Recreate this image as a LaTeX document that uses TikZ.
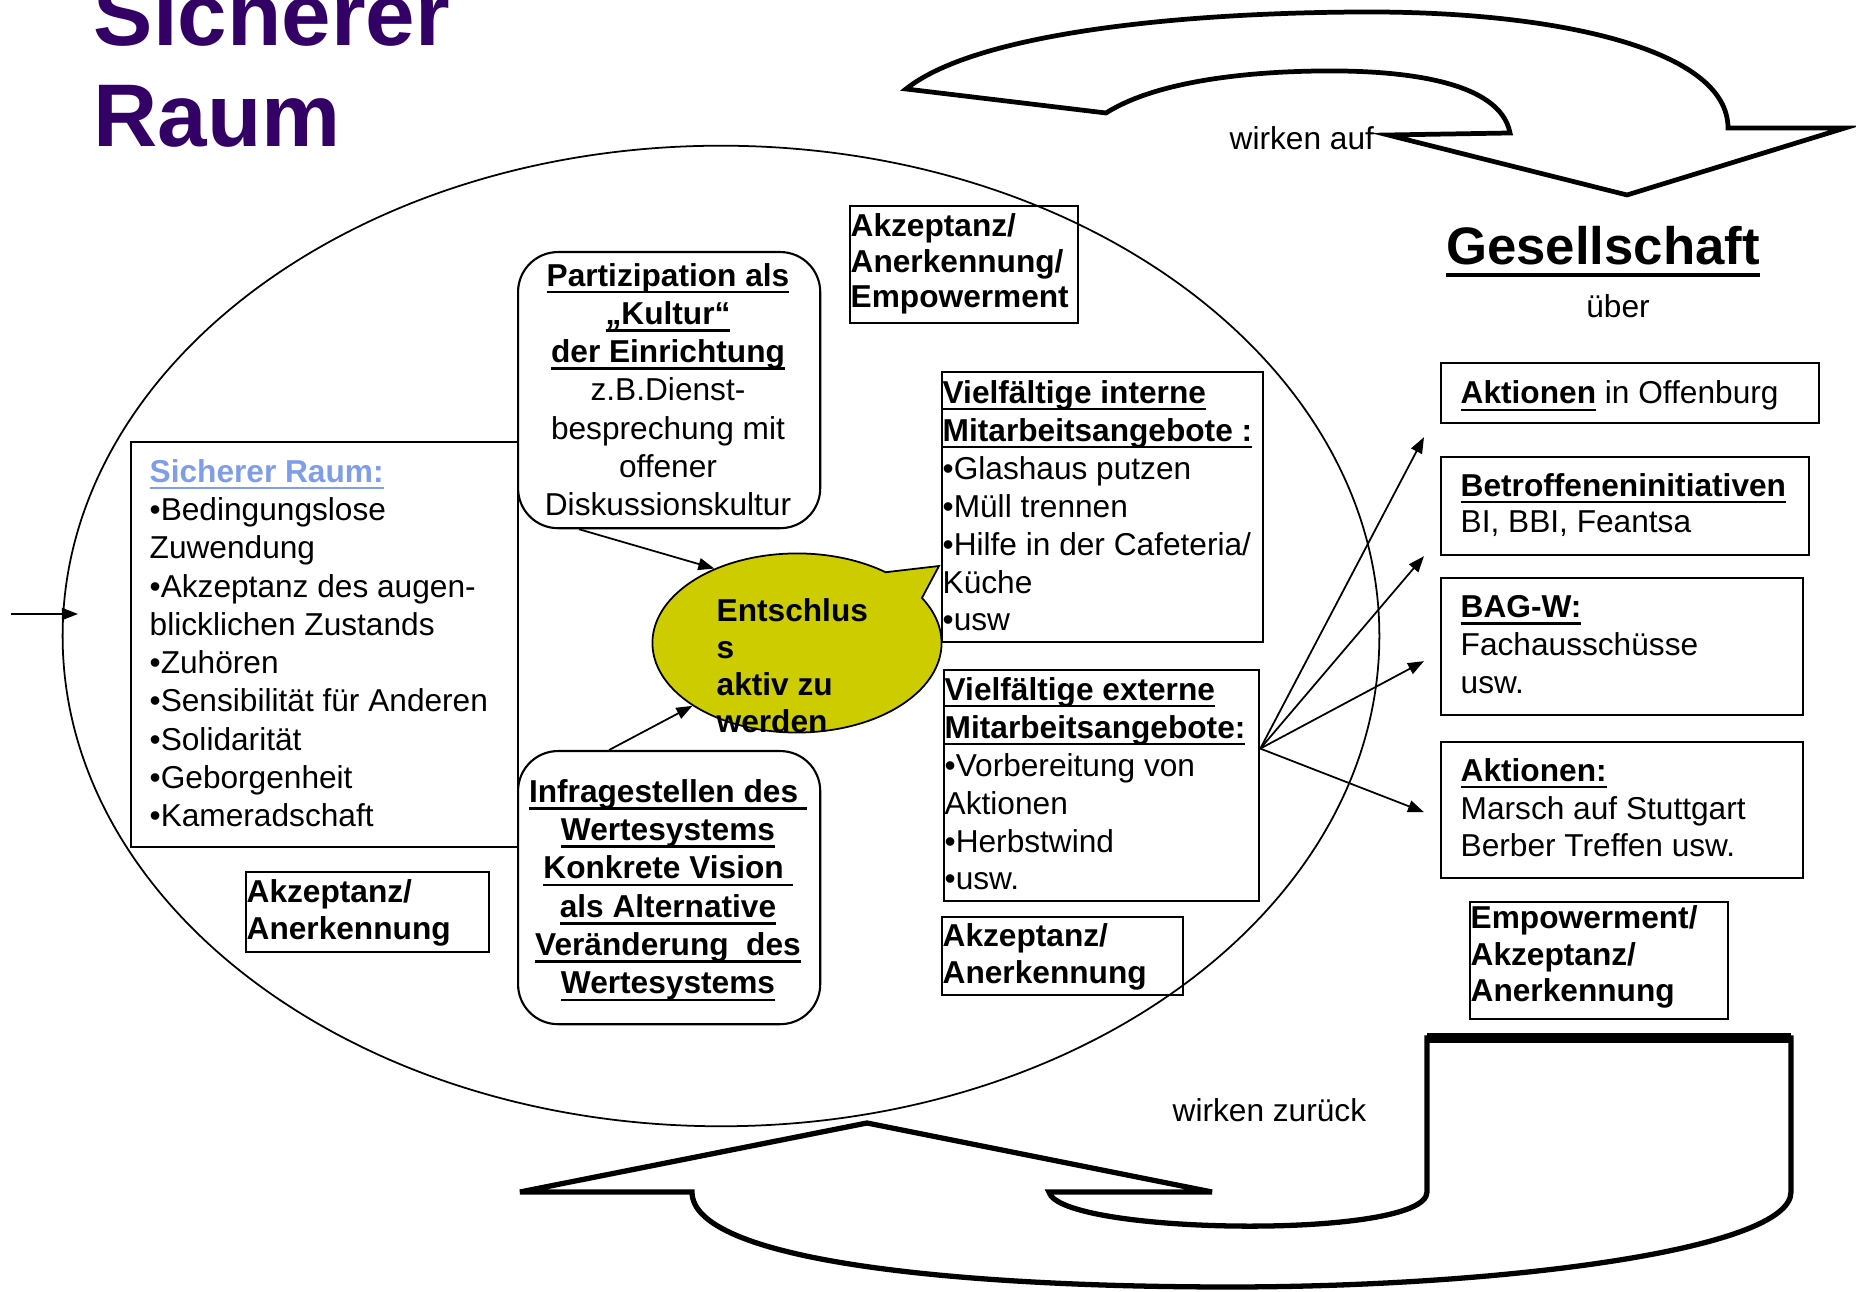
\documentclass[tikz,border=0pt]{standalone}
\usepackage{fontspec}
\setmainfont{Liberation Sans}
\usetikzlibrary{arrows.meta,shapes.geometric,shapes.callouts}
\definecolor{titlepurple}{RGB}{51,0,102}
\definecolor{raumblue}{RGB}{128,158,232}
\definecolor{bubbleyellow}{RGB}{204,204,0}
\newcommand\ulin[1]{\setbox0\hbox{#1}\rlap{\vrule width\wd0 height -0.15em depth 0.23em}\box0}
\tikzset{
  frame/.style={draw, line width=0.6pt, inner sep=0pt, anchor=north west},
  rbox/.style={frame, rounded corners=0.4cm},
  txt/.style={anchor=base west, align=left, inner sep=0pt, font=\fontsize{9}{10.9}\selectfont},
  ctxt/.style={txt, anchor=base, align=center},
  conn/.style={line width=0.5pt, -{Triangle[length=1.6mm,width=1.2mm]}},
  fatarrow/.style={fill=white, line join=miter}
}
\begin{document}
\begin{tikzpicture}[x=0.01cm, y=-0.01cm]
  \clip (0,0) rectangle (1856,1292);

  \draw[fatarrow, line width=1.35pt] (906,89) .. controls (980,30) and (1200,12) .. (1370,12)
    .. controls (1560,12) and (1728,50) .. (1728,128) -- (1845,128) -- (1627,195) -- (1388,135)
    -- (1510,133) .. controls (1500,80) and (1400,70) .. (1320,71)
    .. controls (1230,72) and (1150,85) .. (1106,113) -- cycle;
  \draw[fatarrow, line width=1.5pt] (1427,1038) -- (1427,1192) .. controls (1427,1240) and (1060,1235) .. (1049,1192)
    -- (1212,1192) -- (867,1123) -- (520,1192) -- (692,1192)
    .. controls (692,1260) and (950,1287) .. (1230,1287) .. controls (1500,1287) and (1791,1250) .. (1791,1192)
    -- (1791,1038) -- cycle;
  \draw[line width=2.8pt] (1427,1038) -- (1791,1038);

  \node[font=\fontsize{25.3}{29}\selectfont\bfseries, text=titlepurple, anchor=base west, align=left, inner sep=0pt] (title) at (93,147) {Sicherer\\Raum};

  \node[draw, ellipse, line width=0.5pt, inner sep=0pt, minimum width=13.16cm, minimum height=9.8cm] (raum) at (721,636) {};
  \coordinate (inA) at (11,614);
  \coordinate (inB) at (78,614);
  \draw[conn] (inA) -- (inB);

  \node[frame, minimum width=3.87cm, minimum height=4.05cm] (sraum) at (130,441) {};
  \node[txt] (sraumtxt) at (149,827) {\textcolor{raumblue}{\textbf{\ulin{Sicherer Raum:}}}\\•Bedingungslose\\Zuwendung\\•Akzeptanz des augen-\\blicklichen Zustands\\•Zuhören\\•Sensibilität für Anderen\\•Solidarität\\•Geborgenheit\\•Kameradschaft};
  \node[frame, minimum width=2.43cm, minimum height=0.8cm] (akzl) at (245,871) {};
  \node[txt, font=\fontsize{9}{10.8}\selectfont\bfseries] (akzltxt) at (246,940) {Akzeptanz/\\Anerkennung};

  \node[rbox, fill=white, minimum width=3.02cm, minimum height=2.76cm] (part) at (517,251) {};
  \node[ctxt] (parttxt) at (668,516) {\textbf{\ulin{Partizipation als}}\\\textbf{\ulin{„Kultur“}}\\\textbf{\ulin{der Einrichtung}}\\z.B.Dienst-\\besprechung mit\\offener\\Diskussionskultur};
  \node[rbox, fill=white, minimum width=3.02cm, minimum height=2.73cm] (infra) at (517,750) {};
  \node[ctxt, font=\fontsize{9}{10.9}\selectfont\bfseries] (infratxt) at (668,994) {\ulin{Infragestellen des\ }\\\ulin{Wertesystems}\\\ulin{Konkrete Vision\ }\\\ulin{als Alternative}\\\ulin{Veränderung\ \ des}\\\ulin{Wertesystems}};

  \node[ellipse callout, draw, line width=0.5pt, fill=bubbleyellow, inner sep=0pt, minimum width=2.89cm, minimum height=1.79cm,
    callout absolute pointer={(939,566)}, callout pointer arc=22] (bubble) at (797,643) {};
  \node[txt, font=\fontsize{9}{10.6}\selectfont\bfseries] (bubbletxt) at (716,733) {Entschlus\\s\\aktiv zu\\werden};
  \draw[conn] ([xshift=-0.9cm]part.south) -- (bubble.138);
  \draw[conn] ([xshift=-0.6cm]infra.north) -- (bubble.211);

  \node[frame, minimum width=2.28cm, minimum height=1.17cm] (akzt) at (849,205) {};
  \node[txt, font=\fontsize{9}{10.2}\selectfont\bfseries] (akzttxt) at (850,308) {Akzeptanz/\\Anerkennung/\\Empowerment};

  \node[frame, minimum width=3.21cm, minimum height=2.7cm] (int) at (941,371) {};
  \node[txt, font=\fontsize{9}{10.8}\selectfont] (inttxt) at (942,631) {\textbf{\ulin{Vielfältige interne}}\\\textbf{\ulin{Mitarbeitsangebote :}}\\•Glashaus putzen\\•Müll trennen\\•Hilfe in der Cafeteria/\\Küche\\•usw};
  \node[frame, minimum width=3.15cm, minimum height=2.31cm] (ext) at (943,669) {};
  \node[txt, font=\fontsize{9}{10.8}\selectfont] (exttxt) at (944,890) {\textbf{\ulin{Vielfältige externe}}\\\textbf{\ulin{Mitarbeitsangebote:}}\\•Vorbereitung von\\Aktionen\\•Herbstwind\\•usw.};
  \node[frame, minimum width=2.41cm, minimum height=0.78cm] (akzm) at (941,916) {};
  \node[txt, font=\fontsize{9}{10.8}\selectfont\bfseries] (akzmtxt) at (942,984) {Akzeptanz/\\Anerkennung};

  \node[ctxt, font=\fontsize{15}{18}\selectfont\bfseries] (ges) at (1603,265) {\ulin{Gesellschaft}};
  \node[ctxt] (ueber) at (1618,318) {über};
  \node[txt] (wauf) at (1229,150) {wirken auf};
  \node[txt] (wzur) at (1172,1122) {wirken zurück};

  \node[frame, minimum width=3.78cm, minimum height=0.6cm] (aktoff) at (1440,362) {};
  \node[txt] (aktofftxt) at (1460,404) {\textbf{\ulin{Aktionen}} in Offenburg};
  \node[frame, minimum width=3.68cm, minimum height=0.98cm] (betr) at (1440,456) {};
  \node[txt, font=\fontsize{9}{10.5}\selectfont] (betrtxt) at (1460,533) {\textbf{\ulin{Betroffeneninitiativen}}\\BI, BBI, Feantsa};
  \node[frame, minimum width=3.62cm, minimum height=1.37cm] (bagw) at (1440,577) {};
  \node[txt] (bagwtxt) at (1460,694) {\textbf{\ulin{BAG-W:}}\\Fachausschüsse\\usw.};
  \node[frame, minimum width=3.62cm, minimum height=1.36cm] (aktst) at (1440,741) {};
  \node[txt, font=\fontsize{9}{10.8}\selectfont] (aktsttxt) at (1460,857) {\textbf{\ulin{Aktionen:}}\\Marsch auf Stuttgart\\Berber Treffen usw.};
  \node[frame, minimum width=2.58cm, minimum height=1.17cm] (emp) at (1469,901) {};
  \node[txt, font=\fontsize{9}{10.5}\selectfont\bfseries] (emptxt) at (1470,1002) {Empowerment/\\Akzeptanz/\\Anerkennung};

  \foreach \tgt/\dy in {aktoff/-0.13, betr/0, bagw/0.55, aktst/0.67}
    \draw[conn] ([yshift=0.37cm]ext.east) -- ([shift={(-0.16cm,\dy cm)}]\tgt.south west);
\end{tikzpicture}
\end{document}
